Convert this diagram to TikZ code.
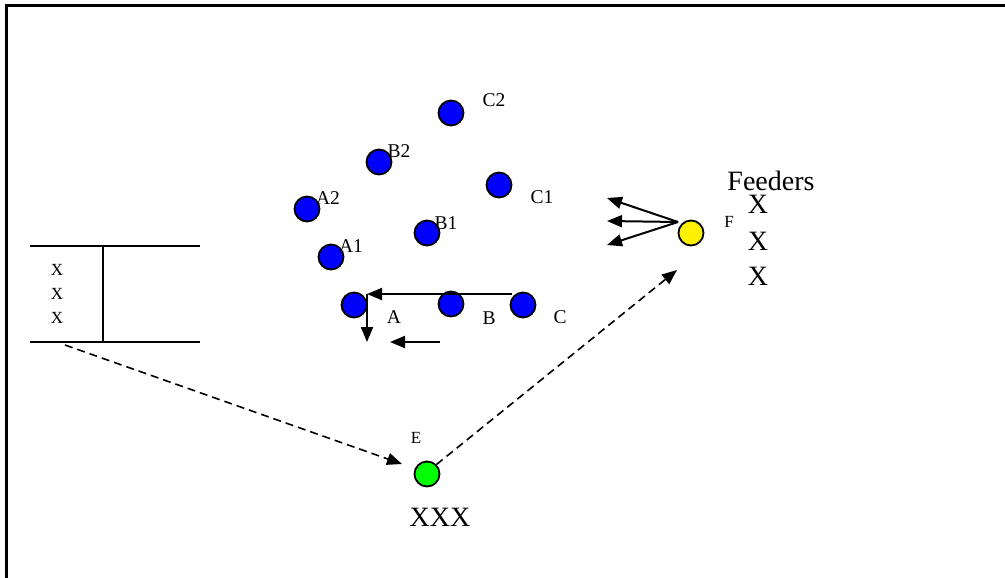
\documentclass[tikz,border=0pt]{standalone}
\usepackage{fontspec}
\setmainfont{Liberation Serif}
\usetikzlibrary{arrows.meta}
\tikzset{
  player/.style={circle, draw=black, line width=1.8pt, minimum size=25pt, inner sep=0pt, fill=blue},
  lbl/.style={font=\fontsize{19.5}{19.5}\selectfont, inner sep=0pt},
  tiny/.style={font=\fontsize{17}{17}\selectfont, inner sep=0pt},
  big/.style={font=\fontsize{28}{28}\selectfont, inner sep=0pt},
  arr/.style={line width=2pt, -{Triangle[length=15pt,width=12pt]}},
  darr/.style={line width=1.6pt, dash pattern=on 8pt off 5pt, -{Triangle[length=15pt,width=12pt]}}
}
\begin{document}
\begin{tikzpicture}[x=1pt,y=-1pt]
\useasboundingbox (0,0) rectangle (1005,578);
% frame
\draw[line width=2.2pt] (6.5,578) -- (6.5,5.5) -- (1005,5.5);
% left box
\draw[line width=2pt] (30,246) -- (200,246);
\draw[line width=2pt] (30,342) -- (200,342);
\draw[line width=2pt] (103,246) -- (103,342);
\node[tiny] (x1) at (57,270) {X};
\node[tiny] (x2) at (57,294) {X};
\node[tiny] (x3) at (57,318) {X};
\coordinate (boxout) at (65,345);
% upper players
\node[player] (C2) at (451,113) {};
\node[player] (B2) at (379,162) {};
\node[player] (A2) at (307,209) {};
\node[player] (C1) at (499,185) {};
\node[player] (B1) at (427,233) {};
\node[player] (A1) at (331,257) {};
\node[lbl] at (494,100) {C2};
\node[lbl] at (399,151) {B2};
\node[lbl] at (328,198) {A2};
\node[lbl] at (542,197) {C1};
\node[lbl] at (446,223) {B1};
\node[lbl] at (351,246) {A1};
% bottom row
\node[player] (A) at (354,305) {};
\node[player] (B) at (451,304) {};
\node[player] (C) at (523,305) {};
\node[lbl] (lA) at (394,317) {A};
\node[lbl] (lB) at (489,318) {B};
\node[lbl] (lC) at (560,317) {C};
\coordinate (cstart) at (512,294);
\coordinate (corner) at (367,294);
\coordinate (down) at (367,342);
\coordinate (s1) at (440,342);
\coordinate (s2) at (390,342);
\draw[arr] (cstart) -- (corner);
\draw[arr] (corner) -- (down);
\draw[arr] (s1) -- (s2);
% F
\node[player, fill=yellow] (F) at (691,233) {};
\coordinate (fo) at (678,222);
\coordinate (f1) at (607,198);
\coordinate (f2) at (607,221);
\coordinate (f3) at (607,245);
\draw[arr] (fo) -- (f1);
\draw[arr] (fo) -- (f2);
\draw[arr] (fo) -- (f3);
\node[tiny] (lF) at (729,222) {F};
\node[big] (feed) at (771,181) {Feeders};
\node[big] (fx1) at (758,204) {X};
\node[big] (fx2) at (758,241) {X};
\node[big] (fx3) at (758,276) {X};
% E
\node[player, fill=green] (E) at (427,474) {};
\node[tiny] (lE) at (416,438) {E};
\node[big] (xxx) at (440,517) {XXX};
\coordinate (ein) at (402,464);
\coordinate (fin) at (677,270);
\draw[darr] (boxout) -- (ein);
\draw[darr] (E.45) -- (fin);
\end{tikzpicture}
\end{document}
